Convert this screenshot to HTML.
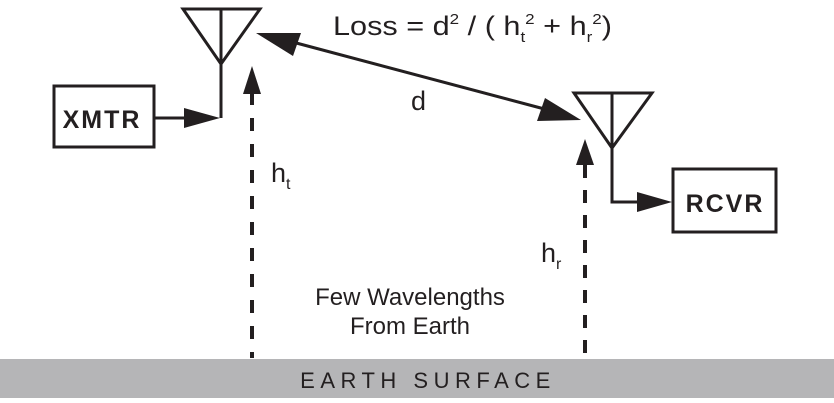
<!DOCTYPE html>
<html><head><style>
html,body{margin:0;padding:0;background:#fff;}
svg{display:block;}
text{font-family:"Liberation Sans",Arial,sans-serif;fill:#231f20;}
</style></head><body>
<svg width="834" height="403" viewBox="0 0 834 403" xmlns="http://www.w3.org/2000/svg">
<g stroke="#231f20" stroke-width="3" fill="none">
<path d="M183 9 L260 9 L221 64 Z"/>
<line x1="221" y1="9" x2="221" y2="118"/>
<rect x="54" y="86" width="100" height="61"/>
<line x1="154" y1="118" x2="190" y2="118"/>
<path d="M574 93 L652 93 L612 148 Z"/>
<polyline points="612,93 612,202 640,202"/>
<rect x="673" y="169" width="103" height="63"/>
<line x1="285" y1="40" x2="552" y2="111"/>
<line x1="252" y1="92" x2="252" y2="358" stroke-width="4" stroke-dasharray="13 13"/>
<line x1="585" y1="165" x2="585" y2="358" stroke-width="4" stroke-dasharray="13 12"/>
</g>
<g fill="#231f20">
<polygon points="220,118 184,108 184,128"/>
<polygon points="672,202 637,192 637,212"/>
<polygon points="256,33 301,33 293,56"/>
<polygon points="581,120 537,121 545,98"/>
<polygon points="252,66 243,94 261,94"/>
<polygon points="585,139 576,165 594,165"/>
</g>
<text x="102" y="128" font-size="25" font-weight="bold" text-anchor="middle" letter-spacing="2">XMTR</text>
<text x="725" y="212" font-size="25" font-weight="bold" text-anchor="middle" letter-spacing="2">RCVR</text>
<text x="333" y="35" font-size="27" textLength="279" lengthAdjust="spacingAndGlyphs">Loss = d<tspan font-size="15" dy="-11">2</tspan><tspan dy="11"> / ( h</tspan><tspan font-size="15" dy="7">t</tspan><tspan font-size="15" dy="-18">2</tspan><tspan dy="11"> + h</tspan><tspan font-size="15" dy="7">r</tspan><tspan font-size="15" dy="-18">2</tspan><tspan dy="11">)</tspan></text>
<text x="411" y="110" font-size="27">d</text>
<text x="271" y="182" font-size="27">h<tspan font-size="16" dy="7">t</tspan></text>
<text x="541" y="262" font-size="27">h<tspan font-size="16" dy="7">r</tspan></text>
<text x="410" y="305" font-size="24" text-anchor="middle">Few Wavelengths</text>
<text x="410" y="334" font-size="24" text-anchor="middle">From Earth</text>
<rect x="0" y="359" width="834" height="39" fill="#b5b5b7"/>
<text x="428" y="388" font-size="22" text-anchor="middle" letter-spacing="5.5">EARTH SURFACE</text>
</svg>
</body></html>
